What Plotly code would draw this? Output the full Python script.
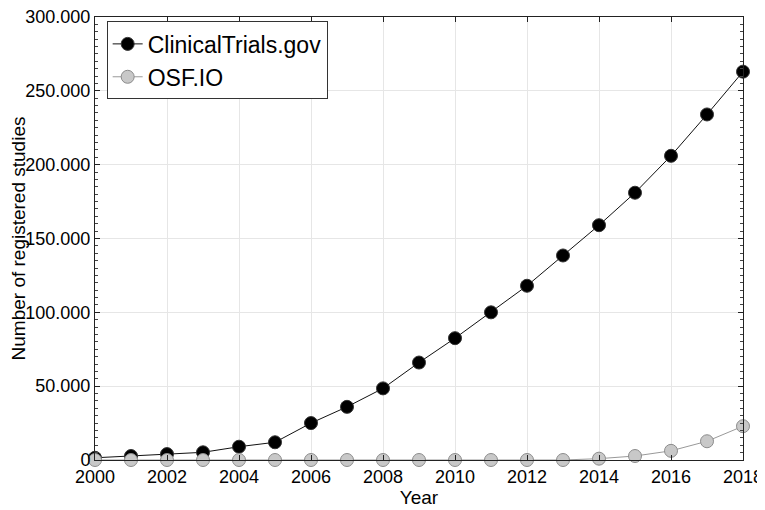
import plotly.graph_objects as go

years = list(range(2000, 2019))
clinical_trials = [1500, 2700, 4000, 5200, 9000, 12000, 25000, 36000, 48500, 66000,
                   82500, 100000, 118000, 138500, 159000, 181000, 206000, 234000, 263000]
osf_io = [0, 0, 0, 0, 0, 0, 0, 0, 0, 0,
          0, 0, 0, 0, 900, 2700, 6200, 12700, 22900]

x_ticks = list(range(2000, 2019, 2))
y_ticks = [0, 50000, 100000, 150000, 200000, 250000, 300000]

fig = go.Figure()
fig.add_trace(go.Scatter(
    x=years, y=clinical_trials, name="ClinicalTrials.gov", mode="lines+markers",
    line=dict(color="#111111", width=1),
    marker=dict(size=13, color="black", line=dict(color="#333333", width=1)),
    cliponaxis=False,
))
fig.add_trace(go.Scatter(
    x=years, y=osf_io, name="OSF.IO", mode="lines+markers",
    line=dict(color="#999999", width=1),
    marker=dict(size=13, color="#c8c8c8", line=dict(color="#8c8c8c", width=1)),
    cliponaxis=False,
))

axis_style = dict(
    showline=True, linecolor="#222222", linewidth=1, mirror="ticks",
    ticks="inside", ticklen=5, tickcolor="#222222",
    showgrid=True, gridcolor="#e6e6e6", gridwidth=1, zeroline=False,
    tickfont=dict(size=18, color="black"), automargin=False,
    ticklabeloverflow="allow",
)

fig.update_xaxes(
    range=[2000, 2018], tickvals=x_ticks,
    title=dict(text="Year", font=dict(size=19, color="black"), standoff=2),
    **axis_style,
)
fig.update_yaxes(
    range=[0, 300000], tickvals=y_ticks, tickformat=",d",
    title=dict(text="Number of registered studies", font=dict(size=19, color="black"), standoff=4),
    minor=dict(ticks="inside", ticklen=3, dtick=5000, tickcolor="#444444", showgrid=False),
    **axis_style,
)

# page body has an 8px margin, so the figure is sized to fit inside the window
fig.update_layout(
    width=757, height=502,
    margin=dict(l=87, r=22, t=9, b=50),
    paper_bgcolor="white", plot_bgcolor="white",
    separators=",.",
    font=dict(family="Liberation Sans, Arial, sans-serif", color="black"),
    showlegend=True,
    legend=dict(
        x=0.018, y=0.99, xanchor="left", yanchor="top",
        bgcolor="white", bordercolor="#333333", borderwidth=1,
        font=dict(size=23, color="black"),
        itemwidth=30, tracegroupgap=0,
    ),
)

fig.write_html("out.html")
